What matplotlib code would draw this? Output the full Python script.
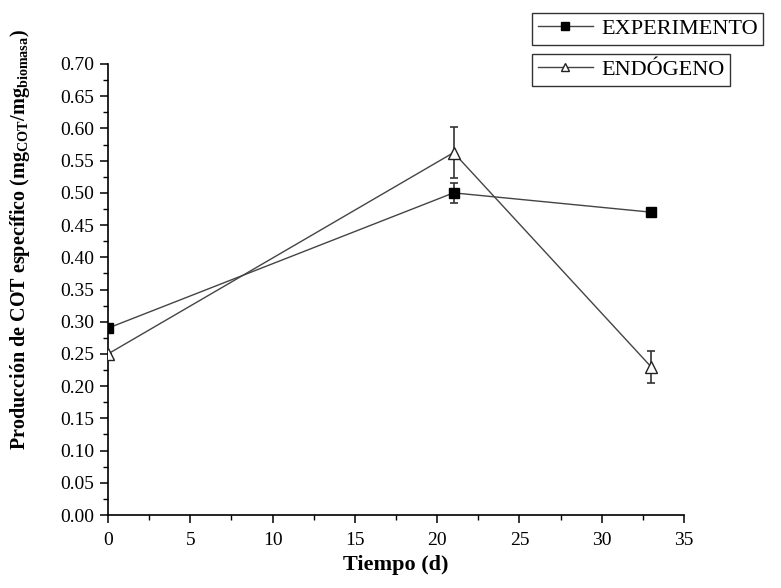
import numpy as np
import matplotlib
matplotlib.use("Agg")
import matplotlib.pyplot as plt
from matplotlib.ticker import MultipleLocator, FormatStrFormatter

plt.rcParams["font.family"] = ["Liberation Serif", "DejaVu Serif"]
plt.rcParams["mathtext.fontset"] = "custom"
plt.rcParams["mathtext.rm"] = "Liberation Serif"
plt.rcParams["mathtext.bf"] = "Liberation Serif:bold"

# Datos
tiempo = [0, 21, 33]
experimento = [0.29, 0.50, 0.47]
experimento_err = [0.0, 0.016, 0.0]
endogeno = [0.25, 0.5625, 0.23]
endogeno_err = [0.0, 0.04, 0.025]

fig = plt.figure(figsize=(7.81, 5.88), dpi=100)
ax = fig.add_axes([108 / 781, 1 - 515 / 588, (684 - 108) / 781, (515 - 64) / 588])

color_linea = "#444444"

ax.errorbar(tiempo, experimento, yerr=experimento_err, fmt="none",
            ecolor="#333333", elinewidth=1.2, capsize=3, capthick=1.2, zorder=2)
ax.errorbar(tiempo, endogeno, yerr=endogeno_err, fmt="none",
            ecolor="#333333", elinewidth=1.2, capsize=3, capthick=1.2, zorder=2)

l1, = ax.plot(tiempo, experimento, "-", color=color_linea, lw=1.0,
              marker="s", markersize=7.5, markerfacecolor="black",
              markeredgecolor="black", zorder=3)
l2, = ax.plot(tiempo, endogeno, "-", color=color_linea, lw=1.0,
              marker="^", markersize=8.5, markerfacecolor="white",
              markeredgecolor="#222222", markeredgewidth=1.0, zorder=3)

ax.set_xlim(0, 35)
ax.set_ylim(0, 0.70)
ax.xaxis.set_major_locator(MultipleLocator(5))
ax.xaxis.set_minor_locator(MultipleLocator(2.5))
ax.yaxis.set_major_locator(MultipleLocator(0.05))
ax.yaxis.set_minor_locator(MultipleLocator(0.025))
ax.yaxis.set_major_formatter(FormatStrFormatter("%.2f"))

for lado in ["top", "right"]:
    ax.spines[lado].set_visible(False)
for lado in ["left", "bottom"]:
    ax.spines[lado].set_linewidth(1.2)

ax.tick_params(axis="both", which="major", direction="out", length=6,
               width=1.1, labelsize=14)
ax.tick_params(axis="both", which="minor", direction="out", length=3.5,
               width=1.0)
ax.tick_params(axis="x", which="major", pad=6)
ax.tick_params(axis="y", which="major", pad=4)

fig.text(396 / 781, 1 - 565 / 588, "Tiempo (d)", ha="center", va="center",
         fontsize=16, fontweight="bold")
fig.text(20 / 781, 1 - 450 / 588,
         r"Producción de COT específico (mg$_{\mathbf{COT}}$/mg$_{\mathbf{biomasa}}$)",
         rotation=90, ha="center", va="bottom", fontsize=14.5, fontweight="bold")

leg_kw = dict(frameon=True, fancybox=False, shadow=False, fontsize=16,
              handlelength=2.5, handletextpad=0.35, borderpad=0.25,
              borderaxespad=0.0, edgecolor="black", markerscale=0.75)
leg1 = fig.legend([l1], ["EXPERIMENTO"], loc="upper left",
                  bbox_to_anchor=(532 / 781, 1 - 13 / 588), **leg_kw)
leg2 = fig.legend([l2], ["ENDÓGENO"], loc="upper left",
                  bbox_to_anchor=(532 / 781, 1 - 54 / 588), **leg_kw)
for leg in (leg1, leg2):
    leg.get_frame().set_linewidth(1.0)

fig.savefig("out.png", dpi=100)
